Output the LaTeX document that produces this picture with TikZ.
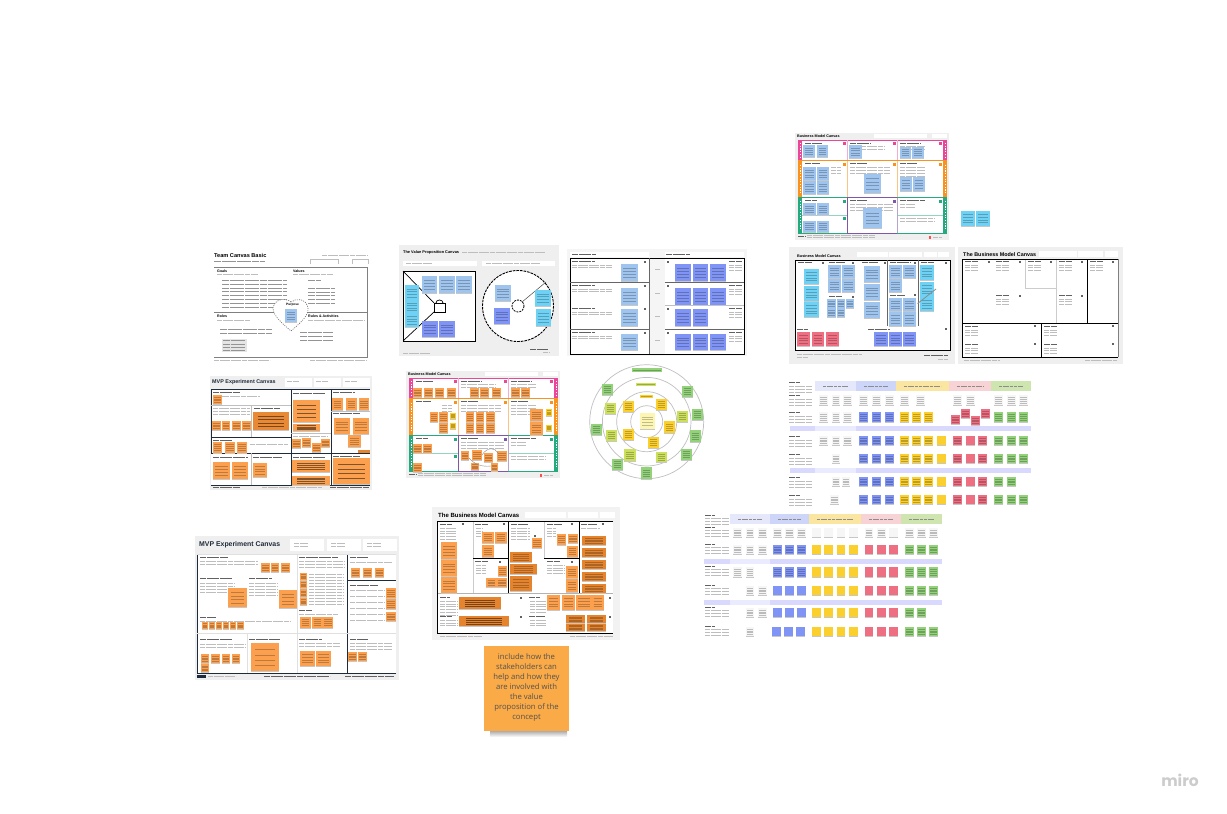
\documentclass[tikz,border=0pt]{standalone}
\usepackage{fontspec}
\setmainfont{Open Sans}
\newfontfamily\headfont{Liberation Sans}
\newfontfamily\logofont{Poppins}
\usetikzlibrary{calc,arrows.meta}
\definecolor{panelgrey}{HTML}{EFEFF0}
\definecolor{slate}{HTML}{1E2B3A}
\definecolor{skyblue}{HTML}{9FC5EE}
\definecolor{cyanblue}{HTML}{6FD2F4}
\definecolor{periblue}{HTML}{7F94F4}
\definecolor{orangenote}{HTML}{FAA04E}
\definecolor{deeporange}{HTML}{E4842F}
\definecolor{yellownote}{HTML}{FBD02E}
\definecolor{rednote}{HTML}{EF6F82}
\definecolor{greennote}{HTML}{93D27A}
\definecolor{limenote}{HTML}{CDE05E}
\definecolor{palenote}{HTML}{FDF6B2}
\definecolor{greynote}{HTML}{F6F6F7}
\definecolor{bmpink}{HTML}{E8479A}
\definecolor{bmorange}{HTML}{F7931E}
\definecolor{bmgreen}{HTML}{25A97F}
\definecolor{bmpurple}{HTML}{7E57A8}
\definecolor{headA}{HTML}{E4E8FA}
\definecolor{headB}{HTML}{CDD6F8}
\definecolor{headC}{HTML}{FAE6A0}
\definecolor{headD}{HTML}{F8D3D5}
\definecolor{headE}{HTML}{CFE5B0}
\tikzset{
  stickink/.style={black,opacity=.24,line width=.5pt},
  darkink/.style={black,opacity=.48,line width=.6pt},
  noink/.style={draw=none},
  greekline/.style={black!26,line width=.45pt,dash pattern=on 5pt off .6pt},
  bodyline/.style={black!42,line width=.45pt,dash pattern=on 7pt off .6pt},
  headline/.style={black!62,line width=.7pt,dash pattern=on 6pt off .6pt},
  frameline/.style={black,line width=1pt},
  slateline/.style={slate,line width=.8pt},
  softline/.style={black!25,line width=.6pt},
  title/.style={anchor=west,inner sep=0,font=\headfont\bfseries},
}
%one sticky note: x1,y1,x2,y2,colour, with its writing and its small shadow
\newcommand{\sticky}[6][stickink]{%
  \fill[black!22] ({#2+.3},{#5}) rectangle ({#4-.3},{#5+.9});
  \fill[#6] (#2,{#3}) rectangle (#4,{#5});
  \foreach \f in {.24,.42,.6,.78}{
    \draw[#1] ({#2+(#4-#2)*.14},{#3+(#5-#3)*\f}) -- ({#4-(#4-#2)*.14},{#3+(#5-#3)*\f});
  }
}
%a row of notes with the same top and bottom
\newcommand{\stickies}[5][stickink]{%
  \foreach \xa/\xb in {#5}{\sticky[#1]{\xa}{#2}{\xb}{#3}{#4}}
}
%lines of small writing: x1,x2,y,number,distance
\newcommand{\greek}[6][greekline]{%
  \foreach \gk in {1,...,#5}{
    \draw[#1] (#2,{#4+(\gk-1)*#6}) -- (#3,{#4+(\gk-1)*#6});
  }
}
\newcommand{\icon}[2]{\fill[black!62] ({#1-1},{#2-1}) rectangle ({#1+1},{#2+1});}
%coloured business model sheet, its panel starts at the given corner
\newcommand{\bmsheet}[2]{%
  \begin{scope}[shift={(#1,#2)}]
    \fill[panelgrey] (0,0) rectangle (154,107);
    \fill[white] (7,7) rectangle (148,100);
    \fill[bmpink] (3,7) rectangle (7,27);\fill[bmpink] (148,7) rectangle (152,27);
    \fill[bmorange] (3,28) rectangle (7,64);\fill[bmorange] (148,28) rectangle (152,64);
    \fill[bmgreen] (3,65) rectangle (7,100);\fill[bmgreen] (148,65) rectangle (152,100);
    \draw[bmpink,line width=.9pt] (3,7) -- (152,7);
    \draw[bmpink!45,line width=.7pt] (52,7) -- (52,27) (102,7) -- (102,27);
    \draw[bmorange,line width=.9pt] (3,27.6) -- (152,27.6);
    \draw[bmorange!55,line width=.7pt] (52,28) -- (52,64) (102,28) -- (102,64);
    \draw[bmgreen,line width=.9pt] (3,64.5) -- (152,64.5) (3,100) -- (52,100) (102,100) -- (152,100);
    \draw[bmgreen!50,line width=.7pt] (7,82) -- (52,82) (102,82) -- (148,82);
    \draw[bmpurple,line width=.9pt] (52,64.5) -- (102,64.5) (52,100) -- (102,100) (52,65) -- (52,100);
    \draw[bmpurple!55,line width=.8pt] (102,65) -- (102,100);
    \fill[white] (79,1) rectangle (132,5);\fill[white] (137,1) rectangle (152,5);
    \node[title,font=\headfont\bfseries\fontsize{3.7}{4}\selectfont] at (2,3) {Business Model Canvas};
    \foreach \i/\j/\c in {48/9/bmpink,98/9/bmpink,144/9/bmpink,48/30/bmorange,98/30/bmorange,144/30/bmorange,48/67/bmgreen,98/67/bmpurple,144/67/bmgreen,48/84/bmgreen}{
      \fill[\c] (\i,\j) rectangle ({\i+3},{\j+2.5});
    }
    \foreach \i in {4,149}{
      \draw[white,line width=.7pt,dash pattern=on 1.2pt off 1.5pt] ({\i+.9},10) -- ({\i+.9},25) ({\i+.9},32) -- ({\i+.9},60) ({\i+.9},68) -- ({\i+.9},97);
    }
    \greek[headline]{10}{27}{10}{1}{0}\greek[headline]{55}{76}{10}{1}{0}\greek[headline]{105}{126}{10}{1}{0}
    \greek{55}{90}{13}{2}{3}\greek{105}{130}{13}{2}{3}
    \greek[headline]{10}{25}{30}{1}{0}\greek[headline]{55}{72}{30}{1}{0}\greek[headline]{105}{122}{30}{1}{0}
    \greek{55}{95}{34}{3}{3}\greek{105}{130}{34}{4}{3}\greek{36}{46}{34}{3}{3}
    \greek[headline]{10}{22}{67}{1}{0}\greek[headline]{55}{72}{67}{1}{0}\greek[headline]{105}{130}{67}{1}{0}
    \greek{55}{98}{71}{3}{3}\greek{105}{120}{71}{2}{3}\greek{105}{140}{85}{2}{3}
    \greek[headline]{3}{10}{103}{1}{0}\greek{12}{80}{102}{2}{2.5}
    \fill[red!70] (134,103) rectangle (136,105.5);\greek{138}{147}{104}{1}{0}
  \end{scope}
}
\begin{document}
\begin{tikzpicture}[x=1pt,y=-1pt]
\useasboundingbox (0,0) rectangle (1227,814);
\fill[white] (0,0) rectangle (1227,814);

%% team canvas
\node[title,font=\headfont\bfseries\fontsize{5.6}{6}\selectfont] (teamtitle) at (214,255) {Team Canvas Basic};
\greek[bodyline]{214}{265}{261}{1}{0}\greek{322}{368}{255}{1}{0}
\draw[softline] (310,264) -- (310,259) -- (338,259) -- (338,264);
\draw[softline] (352,264) -- (352,259) -- (368,259) -- (368,264);
\draw[black!50,line width=.9pt] (214,267.5) -- (367.5,267.5) -- (367.5,357.5) -- (214,357.5);
\draw[black!50,line width=.9pt] (214,312) -- (367.5,312);
\foreach \n/\i/\j in {Goals/217/271,Values/293/271,Roles/217/316,Rules \& Activities/308/316}{
  \node[title,font=\headfont\bfseries\fontsize{3.6}{4}\selectfont] at (\i,\j) {\n};
}
\greek{217}{258}{274.5}{1}{0}\greek{293}{333}{274.5}{1}{0}\greek{217}{250}{320}{1}{0}\greek{308}{365}{320}{1}{0}
\greek[bodyline]{222}{287}{280}{8}{3.9}
\greek[bodyline]{308}{335}{288}{5}{3.8}\greek[bodyline]{308}{321}{280}{1}{0}
\greek[bodyline]{220}{272}{329}{2}{4}
\fill[black!10] (222,339) rectangle (247,352);
\greek[bodyline]{223}{245}{340.5}{4}{3.3}
\greek[bodyline]{300}{333}{332}{3}{4}
\greek{214}{270}{360}{1}{0}\greek{310}{367}{360}{1}{0}
\draw[black!60,fill=white,line width=.6pt,dash pattern=on 1pt off 1.2pt] (291,302) .. controls (286,298) and (275,298) .. (273,308)
  .. controls (273,316) and (283,324) .. (291,331) .. controls (299,324) and (309,316) .. (308,308)
  .. controls (306,298) and (296,298) .. (291,302);
\node[title,font=\headfont\bfseries\fontsize{3.2}{4}\selectfont] at (286,304.5) {Purpose};
\sticky{285}{309}{297}{322}{skyblue}

%% value proposition canvas
\fill[panelgrey] (399,245) rectangle (559,356);
\node[title,font=\headfont\bfseries\fontsize{3.9}{5}\selectfont] (valuetitle) at (403,252) {The Value Proposition Canvas};
\greek{462}{545}{252}{1}{0}
\fill[white] (403,261) rectangle (477,266);\fill[white] (482,261) rectangle (555,266);
\greek{406}{432}{263.5}{1}{0}\greek{486}{540}{263.5}{1}{0}
\fill[white] (403,271) rectangle (475,341);
\draw[frameline] (403,271) rectangle (475,341);
\draw[black,line width=.7pt] (403,271) -- (434,303) (403,341) -- (434,312);
\draw[black,fill=white,line width=.9pt] (434,303) rectangle (445,312);
\draw[black,line width=.7pt] (436,303) .. controls (436,299) and (443,299) .. (443,303);
\stickies{276}{293}{skyblue}{422/437,439/455,456/472}
\stickies{285}{301}{cyanblue}{405/419}\stickies{300}{313}{cyanblue}{405/419}\stickies{313}{327}{cyanblue}{405/419}
\stickies{321}{337}{periblue}{422/438,439/455}
\draw[black,fill=white,line width=.9pt,dash pattern=on 2.6pt off 1pt] (518,306) circle (35.5);
\draw[black,line width=.8pt,dash pattern=on 2pt off 1pt] (518,306) circle (6);
\draw[black!70,line width=.5pt] (522,302) -- (546,282);
\stickies{285}{301}{skyblue}{495/511}\stickies{308}{324}{periblue}{494/510}
\stickies{290}{306}{cyanblue}{535/551}\stickies{309}{326}{cyanblue}{536/551}
\greek[headline]{530}{548}{349}{1}{0}\greek{403}{430}{353}{1}{0}\greek{543}{549}{352.5}{1}{0}

%% value map table
\fill[black!4] (567,249) rectangle (747,356);
\fill[white] (570,252) rectangle (649,257);\fill[white] (665,252) rectangle (744,257);
\greek[headline]{572}{596}{254}{1}{0}\greek[headline]{666}{690}{254}{1}{0}
\fill[white] (570,258) rectangle (744,354);
\fill[black!4] (650,258) rectangle (665,354);
\draw[frameline] (570,258) rectangle (744,354);
\draw[black!60,line width=.9pt] (649.5,258) -- (649.5,354);
\draw[black!60,line width=.8pt] (570,282) -- (649,282) (570,329) -- (649,329) (665,282) -- (744,282) (665,329) -- (744,329);
\draw[black!25,line width=.4pt] (665,305) -- (744,305);
\stickies{264}{281}{skyblue}{621/638}\stickies{288}{305}{skyblue}{621/638}\stickies{309}{326}{skyblue}{621/638}\stickies{334}{350}{skyblue}{621/638}
\stickies{264}{281}{periblue}{675/691,693/708,710/726}
\stickies{288}{305}{periblue}{675/691,693/708,710/726}
\stickies{309}{326}{periblue}{675/691,693/708}
\stickies{334}{350}{periblue}{675/691,693/708,710/726}
\foreach \j in {262,286,309,333}{
  \icon{645}{\j}\icon{668}{\j}
}
\foreach \j in {261,285,308,332}{
  \greek[headline]{572}{595}{\j}{1}{0}\greek{572}{612}{(\j+4)}{2}{2.5}\greek{655}{660}{(\j+8)}{1}{0}
  \greek[headline]{729}{742}{\j}{1}{0}\greek{729}{742}{(\j+4)}{3}{2.5}
}

%% small mvp canvas
\fill[panelgrey] (210,376) rectangle (372,490);
\node[title,font=\headfont\bfseries\fontsize{5.4}{6}\selectfont,text=slate] (mvptitle) at (212,382) {MVP Experiment Canvas};
\foreach \i in {285,314,343}{
  \fill[white] (\i,378) rectangle ({\i+27},387);\greek{{\i+2}}{{\i+14}}{381}{1}{0}
}
\fill[white] (211,389) rectangle (370,485);
\draw[slateline] (211,389) -- (370,389) (291,389) -- (291,485) (331,389) -- (331,485) (211,437) -- (291,437) (211,453) -- (370,453) (211,389) -- (211,453) (211,485) -- (370,485);
\draw[softline] (211,405) -- (291,405) (251,405) -- (251,437) (251,453) -- (251,485) (331,411) -- (370,411) (291,433) -- (331,433);
\foreach \i/\j/\k in {213/392/240,254/408/280,213/440/232,213/457/248,253/457/282,293/393/325,293/457/325,333/392/355,333/413/360,333/456/360}{
  \greek[headline]{\i}{\k}{\j}{1}{0}
}
\greek{213}{250}{408}{3}{3}\greek{213}{260}{396}{1}{0}\greek{293}{328}{436}{1}{0}\greek{250}{288}{444}{1}{0}
\stickies{395}{404}{orangenote}{213/222}
\stickies{421}{430}{orangenote}{212/221,222/230,232/241,242/251}
\stickies[darkink]{412}{430}{deeporange!80!orangenote}{253/289}
\stickies{442}{453}{orangenote}{213/222,225/235,237/247}
\stickies{462}{479}{orangenote}{213/230,232/248}
\stickies{463}{477}{orangenote}{253/267}
\stickies[darkink]{400}{422}{orangenote}{293/320}\stickies[darkink]{424}{431}{orangenote}{293/320}
\stickies{439}{448}{orangenote}{292/301}\stickies{438}{447}{orangenote}{302/311}
\stickies{443}{452}{orangenote}{312/321}\stickies{439}{447}{orangenote}{321/330}
\stickies{398}{410}{orangenote}{332/343,346/357,359/369}
\stickies{418}{434}{orangenote}{334/350,353/369}\stickies{435}{447}{orangenote}{348/361}
\fill[deeporange] (358,450) rectangle (370,453);
\stickies[darkink]{460}{472}{orangenote}{292/330}\stickies[darkink]{476}{485}{orangenote}{292/330}
\stickies[darkink]{458}{484}{orangenote}{333/370}
\greek[headline]{213}{240}{487.5}{1}{0}\greek{262}{322}{487.5}{1}{0}\greek[headline]{330}{369}{487.5}{1}{0}

%% orange business model sheet
\bmsheet{406}{371}
\stickies{388}{397}{orangenote}{413/422,424/433,435/444,447/456,470/479,480/489,492/501,511/520,521/530}
\stickies{412}{422}{orangenote}{430/438,439/448,466/474,476/484,486/495}
\stickies{423}{433}{orangenote}{439/448,466/474,476/484,486/495}
\stickies{409}{421}{orangenote}{530/543}\stickies{422}{435}{orangenote}{530/543}
\stickies{413}{419}{yellownote}{450/456}\stickies{423}{429}{yellownote}{450/456}
\stickies{409}{416}{yellownote}{546/552}\stickies{425}{431}{yellownote}{546/552}
\stickies{444}{453}{orangenote}{413/422,423/432}\stickies{463}{472}{orangenote}{413/422}
\stickies{451}{460}{orangenote}{461/469}\stickies{450}{460}{orangenote}{472/482}
\stickies{453}{462}{orangenote}{484/493}\stickies{451}{461}{orangenote}{497/507}
\stickies{463}{470}{orangenote}{471/479}\stickies{463}{471}{orangenote}{491/498}
\draw[black!45,line width=.4pt] (482,455) .. controls (487,447) and (495,447) .. (498,453);
\draw[black!45,line width=.4pt] (469,458) .. controls (475,465) and (483,467) .. (491,466);

%% stakeholder circles
\foreach \r in {57,44.3,30,16}{
  \draw[black!25,line width=.7pt] (646.7,421.7) circle (\r);
}
\stickies{413}{429}{palenote}{640/655}
\stickies{401}{412}{yellownote}{623/634}\stickies{399}{410}{yellownote}{656/667}
\stickies{421}{433}{yellownote}{664/675}\stickies{437}{448}{yellownote}{648/659}\stickies{429}{440}{yellownote}{623/634}
\stickies{403}{414}{limenote}{605/616}\stickies{430}{441}{limenote}{606/617}
\stickies{449}{461}{limenote}{624/636}\stickies{452}{462}{limenote}{656/667}\stickies{411}{422}{limenote}{677/688}
\stickies{384}{395}{greennote}{602/613}\stickies{386}{397}{greennote}{682/693}\stickies{409}{420}{greennote}{692/703}
\stickies{430}{442}{greennote}{690/701}\stickies{449}{460}{greennote}{681/692}\stickies{467}{479}{greennote}{641/652}
\stickies{459}{470}{greennote}{612/623}\stickies{424}{435}{greennote}{591/602}
\fill[yellownote] (640,395) rectangle (653,398);\greek[stickink]{641}{652}{396.5}{1}{0}
\fill[limenote] (636,383) rectangle (656,386);\greek[stickink]{637}{655}{384.5}{1}{0}
\fill[greennote] (632,368) rectangle (662,372);\greek[stickink]{633}{661}{370}{1}{0}

%% blue business model sheet and its two loose notes
\bmsheet{795}{133}
\stickies{145}{157}{skyblue}{803/815,817/828}\stickies{145}{158}{skyblue}{849/862}
\stickies{147}{158}{skyblue}{900/911,912/924}
\stickies{167}{180}{skyblue}{803/816,817/829}\stickies{181}{194}{skyblue}{803/816,817/829}
\stickies{174}{193}{skyblue}{864/881}\stickies{177}{191}{skyblue}{900/912,913/925}
\stickies{203}{215}{skyblue}{803/816,817/829}\stickies{221}{232}{skyblue}{803/816,817/829}
\stickies{208}{228}{skyblue}{863/882}
\stickies{211}{226}{cyanblue}{961/975,976/990}

%% lean sheet with blue notes
\fill[panelgrey] (789,247) rectangle (955,364);
\node[title,font=\headfont\bfseries\fontsize{3.8}{5}\selectfont] (leantitle) at (797,256) {Business Model Canvas};
\foreach \i/\k in {857/888,889/922,924/937,938/949}{
  \fill[white] (\i,252) rectangle (\k,257);
}
\fill[white] (795,260) rectangle (950,350);
\draw[frameline] (795,260) rectangle (950,350);
\draw[black!60,line width=.9pt] (887,260) -- (887,326) (918,260) -- (918,326);
\foreach \i/\k/\j in {798/812/262,829/845/262,862/878/262,890/910/262,921/934/262,829/842/296,890/905/295,797/808/329,868/890/329}{
  \greek[headline]{\i}{\k}{\j}{1}{0}
}
\foreach \i/\j in {823/263,853/263,885/263,915/263,946/263,853/297,915/295,946/329}{
  \icon{\i}{\j}
}
\stickies{269}{284}{cyanblue}{804/819}\stickies{286}{301}{cyanblue}{804/819}\stickies{302}{317}{cyanblue}{804/819}
\stickies{265}{278}{skyblue}{828/841,842/855,889/902,903/916}\stickies{279}{292}{skyblue}{828/841,842/855,889/902}
\stickies{299}{308}{skyblue}{827/836,837/845,846/854}\stickies{308}{317}{skyblue}{827/836,837/845}
\stickies{266}{282}{skyblue}{864/880}\stickies{284}{300}{skyblue}{864/880}\stickies{302}{318}{skyblue}{864/880}
\stickies{298}{311}{skyblue}{889/902,903/916}\stickies{312}{326}{skyblue}{889/902,903/916}
\stickies{265}{280}{cyanblue}{920/934}\stickies{282}{297}{cyanblue}{920/934}\stickies{297}{311}{cyanblue}{920/934}
\stickies{332}{346}{rednote}{797/810,812/824,826/839}
\stickies{332}{346}{periblue}{874/888,889/902,903/916}
\coordinate (noteend) at (936,289);\coordinate (noteroot) at (917,304);
\draw[black!45,line width=.8pt,-{Latex[length=2pt]}] (noteend) -- (noteroot);
\greek{797}{862}{354}{1}{0}\greek{797}{808}{357.5}{1}{0}\greek[headline]{924}{948}{355}{1}{0}\greek{938}{948}{359}{1}{0}

%% empty business model canvas
\fill[panelgrey] (958,247) rectangle (1123,364);
\node[title,font=\headfont\bfseries\fontsize{5.4}{6}\selectfont] (bmctitle) at (963,255) {The Business Model Canvas};
\foreach \i/\k in {1039/1077,1078/1103,1105/1118}{
  \fill[white] (\i,251) rectangle (\k,257);
}
\fill[white] (962,259) rectangle (1118,357);
\draw[black!50,line width=.9pt] (1118,259) -- (1118,357);
\draw[black!20,line width=.6pt] (1056,259) -- (1056,323) (1025,259) -- (1025,289) (1025,288) -- (1056,288);
\draw[frameline] (1118,259) -- (962,259) -- (962,357) -- (1118,357);
\draw[frameline] (1087,259) -- (1087,323) (962,323) -- (1118,323) (1041,323) -- (1041,357);
\foreach \i/\j in {965/261,996/261,1028/261,1059/261,1090/261,996/295,1059/295,965/326,965/344,1044/326,1044/344}{
  \greek[headline]{\i}{{\i+13}}{\j}{1}{0}\greek{\i}{{\i+13}}{(\j+4)}{3}{2.7}
}
\foreach \i/\j in {989/262,1020/262,1051/262,1082/262,1113/262,1020/296,1082/296,1035/326,1035/344,1113/326,1113/344}{
  \icon{\i}{\j}
}
\greek{964}{1000}{360.5}{1}{0}\greek{1085}{1117}{360.5}{1}{0}

%% first table, header colours then rows of notes
\foreach \i/\k/\c in {815/856/headA,856/896/headB,896/949/headC,949/991/headD,991/1031/headE}{
  \fill[\c] (\i,381) rectangle (\k,391);
  \greek[black!45,line width=.5pt,dash pattern=on 3pt off .7pt]{{\i+8}}{{\k-8}}{386}{1}{0}
}
\foreach \j in {426,468}{
  \fill[black!3!blue!15] (790,\j) rectangle (815,{\j+4.5});
  \fill[blue!8] (815,\j) rectangle (856,{\j+4.5});
  \fill[black!3!blue!15] (856,\j) rectangle (1031,{\j+4.5});
}
\foreach \j in {382,395,412,436,454,477,495}{
  \greek[headline]{789}{800}{\j}{1}{0}\greek{789}{812}{(\j+4)}{3}{3}
}
\stickies{395}{405}{greynote}{819/828,832/840,843/852,859/868,872/881,885/894,900/909,916/925,953/962,966/975,994/1003,1007/1016,1019/1028}
\stickies{412}{422}{greynote}{819/828,832/840,843/852}
\stickies{412}{422}{periblue}{859/868,872/881,885/894}
\stickies{412}{422}{yellownote}{900/909,912/921,924/933}
\stickies{415}{424}{rednote}{951/960}\stickies{409}{418}{rednote}{961/970}\stickies{416}{425}{rednote}{971/980}\stickies{409}{418}{rednote}{981/990}
\stickies{412}{422}{greennote}{994/1003,1007/1016,1019/1028}
\stickies{436}{445}{greynote}{819/828,832/840,843/852}
\stickies{454}{463}{greynote}{832/840}
\stickies{477}{486}{greynote}{832/840,842/850}
\stickies{495}{504}{greynote}{830/839}
\foreach \j/\jj in {436/445,454/463,477/486,495/504}{
  \stickies{\j}{\jj}{periblue}{859/868,872/881,885/894}
  \stickies{\j}{\jj}{yellownote}{900/909,912/921,924/933}
  \stickies[noink]{\j}{\jj}{yellownote}{937/946}
  \stickies{\j}{\jj}{rednote}{953/962,978/987}
  \stickies[noink]{\j}{\jj}{rednote}{966/975}
}
\stickies{436}{445}{greennote}{994/1003,1007/1016,1019/1028}
\stickies{454}{463}{greennote}{994/1003,1007/1016,1019/1028}
\stickies{477}{486}{greennote}{994/1003,1007/1016}
\stickies{495}{504}{greennote}{994/1003,1007/1016,1019/1028}

%% second table
\foreach \i/\k/\c in {730/770/headA,770/809/headB,809/861/headC,861/901/headD,901/942/headE}{
  \fill[\c] (\i,514) rectangle (\k,524);
  \greek[black!45,line width=.5pt,dash pattern=on 3pt off .7pt]{{\i+8}}{{\k-8}}{519}{1}{0}
}
\foreach \j in {559,600}{
  \fill[black!3!blue!15] (704,\j) rectangle (730,{\j+4.5});
  \fill[blue!8] (730,\j) rectangle (770,{\j+4.5});
  \fill[black!3!blue!15] (770,\j) rectangle (942,{\j+4.5});
}
\foreach \j in {515,527,544,566,585,607,626}{
  \greek[headline]{705}{715}{\j}{1}{0}\greek{705}{729}{(\j+3.5)}{3}{2.8}
}
\stickies{528}{537}{greynote}{733/742,746/754,758/767,773/782,785/794,797/806,865/873,877/886,905/914,917/926,929/938}
\stickies[noink]{528}{537}{greynote}{812/821,824/833,837/845,849/858,889/898}
\stickies{545}{554}{greynote}{733/742,746/754,758/767}
\stickies{567}{577}{greynote}{733/742,746/754}
\stickies{586}{595}{greynote}{746/754,758/767}
\stickies{608}{617}{greynote}{746/754,758/767}
\stickies{627}{636}{greynote}{746/754}
\stickies{545}{554}{periblue}{773/782,785/794,797/806}
\stickies{567}{577}{periblue}{773/782,785/794,797/806}
\stickies[noink]{586}{595}{periblue}{773/782,785/794,797/806}
\stickies[noink]{608}{617}{periblue}{773/782,785/794,797/806}
\stickies[noink]{627}{636}{periblue}{772/781,784/793,796/805}
\foreach \j/\jj in {545/554,567/577,586/595,608/617,627/636}{
  \stickies[noink]{\j}{\jj}{yellownote}{812/821,824/833,837/845,849/858}
  \stickies[noink]{\j}{\jj}{rednote}{865/873,877/886,889/898}
}
\stickies{545}{554}{greennote}{905/914,917/926,929/938}
\stickies{567}{577}{greennote}{905/914,917/926,929/938}
\stickies{586}{595}{greennote}{905/914,917/926,929/938}
\stickies{608}{617}{greennote}{905/914,917/926}
\stickies{627}{636}{greennote}{905/914,917/926,929/938}

%% large mvp canvas
\fill[panelgrey] (195,536) rectangle (399,680);
\node[title,font=\headfont\bfseries\fontsize{6.9}{8}\selectfont,text=slate] (bigmvptitle) at (199,545) {MVP Experiment Canvas};
\foreach \i in {290,327,363}{
  \fill[white] (\i,539) rectangle ({\i+34},551);\greek{{\i+4}}{{\i+18}}{543}{2}{3}
}
\fill[white] (197,554) rectangle (396,673);
\draw[slateline] (197,554) -- (197,673) -- (396,673) (347,554) -- (347,673) (347,580) -- (396,580);
\draw[black!12,line width=.7pt] (197,633) -- (396,633) (197,554) -- (396,554) (297,554) -- (297,633) (297,633) -- (297,673) (247,633) -- (247,673);
\foreach \i/\j/\k in {200/557/228,200/578/232,249/578/272,200/617/216,200/639/232,249/639/280,299/557/338,299/610/312,299/639/322,350/557/368,350/585/378,350/639/368}{
  \greek[headline]{\i}{\k}{\j}{1}{0}
}
\greek{200}{258}{561}{2}{3}\greek{200}{234}{583}{4}{3}\greek{249}{278}{583}{5}{3}\greek{200}{290}{621}{1}{0}
\greek{200}{245}{644}{2}{3.5}\greek{299}{344}{561}{3}{3}\greek{309}{344}{574}{11}{3}
\greek{350}{385}{590}{6}{6}\greek{350}{392}{562}{1}{0}\greek{350}{392}{643}{3}{3}
\greek{299}{338}{614}{1}{0}\greek{299}{340}{643}{2}{3}
\stickies{563}{572}{orangenote}{261/270,271/279,281/290}
\stickies{588}{607}{orangenote}{228/247}\stickies{590}{608}{orangenote}{279/297}
\stickies{573}{580}{orangenote}{300/307}\stickies{581}{588}{orangenote}{300/307}\stickies{589}{597}{orangenote}{300/307}\stickies{598}{605}{orangenote}{300/307}
\stickies{622}{629}{orangenote}{202/208,209/215,216/222,223/229,230/236,237/244}
\stickies{617}{628}{orangenote}{300/311,312/323,323/333}
\stickies{568}{577}{orangenote}{351/360,363/372,375/384}
\stickies{588}{598}{orangenote}{386/396}\stickies{599}{609}{orangenote}{386/396}\stickies{612}{621}{orangenote}{386/396}
\stickies{654}{663}{orangenote}{201/209,211/220,222/230,232/240}\stickies{664}{672}{orangenote}{201/209}
\stickies{643}{671}{orangenote}{251/279}
\stickies{651}{666}{orangenote}{300/315,316/331}\stickies{652}{661}{orangenote}{348/357,358/367}
\fill[slate] (197,675) rectangle (206,678);
\greek{208}{236}{676.5}{1}{0}\greek[headline]{264}{330}{676.5}{1}{0}\greek[headline]{345}{394}{676.5}{1}{0}

%% lean canvas with orange notes
\fill[black!5] (432,507) rectangle (620,640);
\node[title,font=\headfont\bfseries\fontsize{6}{6}\selectfont] (orangetitle) at (438,515) {The Business Model Canvas};
\foreach \i/\k in {525/566,568/598,600/615}{
  \fill[white] (\i,512) rectangle (\k,518);
}
\fill[white] (437,521) rectangle (613,633);
\draw[black!30,line width=.9pt] (437,593) -- (613,593);
\draw[black!20,line width=.5pt] (473,521) -- (473,558) (544,521) -- (544,558) (473,558) -- (473,593);
\draw[frameline] (613,521) -- (437,521) -- (437,633) -- (613,633);
\draw[frameline] (508,521) -- (508,593) (579,521) -- (579,593) (473,558) -- (508,558) (544,558) -- (579,558);
\foreach \i/\j/\k in {440/524/452,475/524/488,511/524/528,547/524/562,581/524/597,475/561/488,547/561/560,440/597/450,529/597/540,440/616/452,529/616/545}{
  \greek[headline]{\i}{\k}{\j}{1}{0}
}
\foreach \i/\j/\k/\n in {440/528/456/5,476/528/482/4,511/528/530/5,547/528/556/4,581/528/600/1,476/565/486/4,547/565/564/4,440/601/458/6,440/620/458/3,530/601/546/5,530/620/546/3}{
  \greek{\i}{\k}{\j}{\n}{2.8}
}
\foreach \i/\j in {463/524,504/524,535/536,572/524,603/524,500/562,572/562,521/598,610/598,521/617,610/617}{
  \icon{\i}{\j}
}
\stickies{542}{559}{orangenote}{441/457}\stickies{560}{576}{orangenote}{441/457}\stickies{577}{593}{orangenote}{441/457}
\stickies{532}{543}{orangenote}{482/494,495/507}\stickies{545}{557}{orangenote}{482/494}
\stickies{566}{576}{orangenote}{498/507}\stickies{578}{587}{orangenote}{486/497,497/507}
\stickies{538}{548}{orangenote}{532/542}
\stickies{552}{562}{deeporange}{510/532}\stickies{564}{574}{deeporange}{510/537}\stickies{576}{591}{deeporange}{510/532}
\stickies{534}{545}{orangenote}{557/566}\stickies{534}{543}{orangenote}{568/578}\stickies{546}{557}{orangenote}{567/578}
\stickies{566}{578}{orangenote}{566/578}\stickies{579}{592}{orangenote}{566/578}
\foreach \j in {536,548,560,572,584}{
  \stickies{\j}{(\j+9)}{deeporange}{582/606}
}
\stickies{595}{610}{orangenote}{547/560,562/575,576/592,592/604}
\stickies{615}{623}{deeporange}{566/585,587/606}\stickies{623.5}{631}{deeporange}{566/585,587/606}
\stickies[darkink]{597}{609}{deeporange}{459/501}\stickies[darkink]{616}{626}{deeporange}{459/509}
\greek{440}{482}{636.5}{1}{0}\greek{570}{613}{636.5}{1}{0}

%% big loose note with its shadow
\shade[top color=black!32,bottom color=white] (490,731) rectangle (567,737);
\fill[orangenote!90!yellow] (484,646) rectangle (569,731);
\node[align=center,inner sep=0,text=black!68,font=\fontsize{7.7}{10}\selectfont] (bignote) at (526.5,687)
  {include how the\\stakeholders can\\help and how they\\are involved with\\the value\\proposition of the\\concept};

\node[anchor=center,inner sep=0,text=black!20,font=\logofont\bfseries\fontsize{15.5}{16}\selectfont] (logo) at (1180,780) {miro};
\end{tikzpicture}
\end{document}
